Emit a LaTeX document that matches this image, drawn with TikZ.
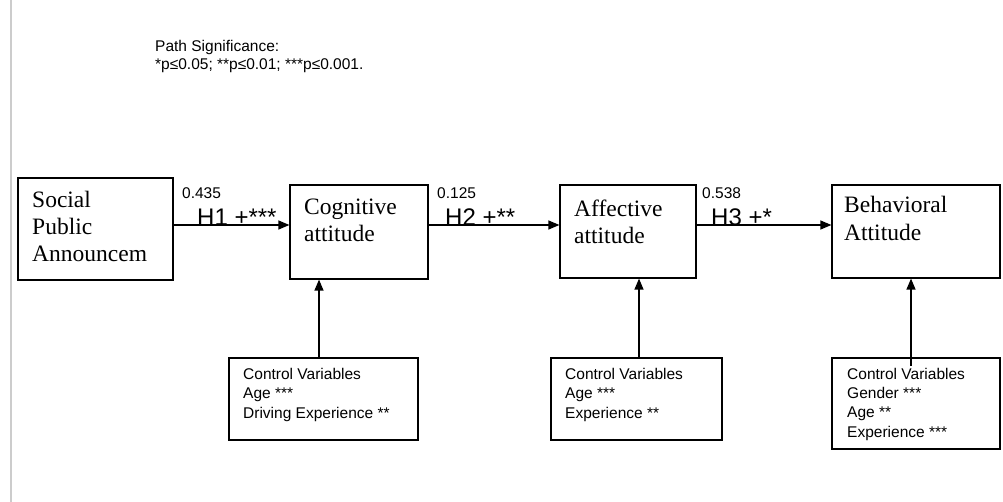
\documentclass[tikz,border=0pt]{standalone}
\usepackage{fontspec}
\setmainfont{Liberation Serif}
\newfontfamily\arialf{Liberation Sans}
\usetikzlibrary{arrows.meta}
\begin{document}
\begin{tikzpicture}[x=1pt,y=-1pt,
  box/.style={draw,line width=1.2pt,inner sep=0pt},
  arr/.style={line width=1.2pt,-{Triangle[length=11pt,width=9pt]}},
  bigtxt/.style={anchor=base west,inner sep=0pt,font=\fontsize{23.5}{27}\selectfont},
  smalltxt/.style={anchor=base west,inner sep=0pt,font=\arialf\fontsize{15.5}{19}\selectfont},
  htxt/.style={anchor=base west,inner sep=0pt,font=\arialf\fontsize{24}{28}\selectfont}]
\useasboundingbox (0,0) rectangle (1003,502);
\draw[gray!40,line width=1.5pt] (11,0) -- (11,502);
% title
\node[smalltxt] (t1) at (155,52) {Path Significance:};
\node[smalltxt] (t2) at (155,70) {*p≤0.05; **p≤0.01; ***p≤0.001.};
% main boxes
\node[box,minimum width=155pt,minimum height=102pt] (soc) at (95.5,229) {};
\node[box,minimum width=138pt,minimum height=94pt] (cog) at (359,232) {};
\node[box,minimum width=136pt,minimum height=93pt] (aff) at (628,231.5) {};
\node[box,minimum width=168pt,minimum height=93pt] (beh) at (916,231.5) {};
\node[bigtxt] (soc1) at (32,208) {Social};
\node[bigtxt] (soc2) at (32,235) {Public};
\node[bigtxt] (soc3) at (32,262) {Announcem};
\node[bigtxt] (cog1) at (304,215) {Cognitive};
\node[bigtxt] (cog2) at (304,242) {attitude};
\node[bigtxt] (aff1) at (574,217) {Affective};
\node[bigtxt] (aff2) at (574,244) {attitude};
\node[bigtxt] (beh1) at (844,213) {Behavioral};
\node[bigtxt] (beh2) at (844,241) {Attitude};
% control boxes
\node[box,minimum width=189pt,minimum height=82pt] (c1) at (323.5,399) {};
\node[box,minimum width=171pt,minimum height=82pt] (c2) at (636.5,399) {};
\node[box,minimum width=168pt,minimum height=91pt] (c3) at (916,403.5) {};
\node[smalltxt] (c1a) at (243,379) {Control Variables};
\node[smalltxt] (c1b) at (243,398) {Age ***};
\node[smalltxt] (c1c) at (243,418) {Driving Experience **};
\node[smalltxt] (c2a) at (565,379) {Control Variables};
\node[smalltxt] (c2b) at (565,398) {Age ***};
\node[smalltxt] (c2c) at (565,418) {Experience **};
\node[smalltxt] (c3a) at (847,379) {Control Variables};
\node[smalltxt] (c3b) at (847,398) {Gender ***};
\node[smalltxt] (c3c) at (847,417) {Age **};
\node[smalltxt] (c3d) at (847,437) {Experience ***};
% horizontal arrows
\draw[arr] (soc.east |- 0,225) -- (cog.west |- 0,225);
\draw[arr] (cog.east |- 0,225) -- (aff.west |- 0,225);
\draw[arr] (aff.east |- 0,225) -- (beh.west |- 0,225);
\node[smalltxt] (p1) at (182,199) {0.435};
\node[htxt] (h1) at (197,226) {H1 +***};
\node[smalltxt] (p2) at (437,199) {0.125};
\node[htxt] (h2) at (445,226) {H2 +**};
\node[smalltxt] (p3) at (702,199) {0.538};
\node[htxt] (h3) at (711,226) {H3 +*};
% vertical arrows
\draw[arr] (c1.north -| 319,0) -- (cog.south -| 319,0);
\draw[arr] (c2.north -| 639,0) -- (aff.south -| 639,0);
\coordinate (c3in) at (911,366);
\draw[arr] (c3in) -- (beh.south -| c3in);
\end{tikzpicture}
\end{document}
